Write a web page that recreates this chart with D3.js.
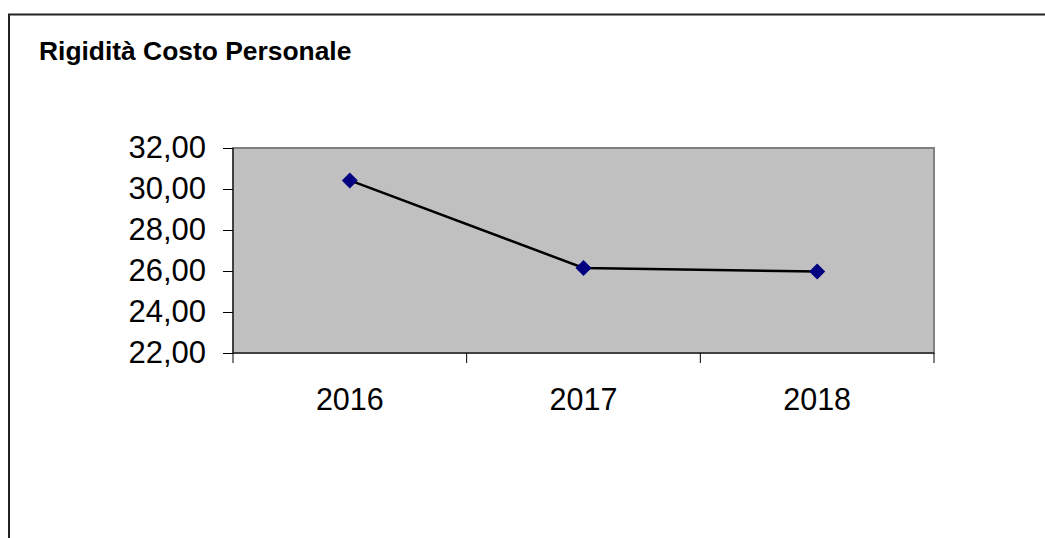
<!DOCTYPE html>
<html>
<head>
<meta charset="utf-8">
<script src="https://cdn.jsdelivr.net/npm/d3@7"></script>
<style>
  html, body { margin: 0; padding: 0; background: #fff; }
  svg { display: block; font-family: Arial, 'Liberation Sans', sans-serif; }
</style>
</head>
<body>
<svg id="chart" width="1045" height="538"></svg>
<script>
const title = 'Rigidità Costo Personale';
const years = ['2016', '2017', '2018'];
const values = [30.42, 26.15, 25.97];
const yTicks = [22, 24, 26, 28, 30, 32];

const width = 1045;
const height = 538;
const plot = { left: 233, top: 148, right: 934, bottom: 353 };

const svg = d3.select('#chart');

// italian style numbers: 32,00
const it = d3.formatLocale({ decimal: ',', thousands: '.', grouping: [3], currency: ['€', ''] });
const fmt = it.format('.2f');

const x = d3.scaleBand().domain(years).range([plot.left, plot.right]).padding(0);
const y = d3.scaleLinear().domain([22, 32]).range([plot.bottom, plot.top]);

// outer frame (only top and left visible)
svg.append('path')
    .attr('d', `M9,${height} L9,14.5 L${width},14.5`)
    .attr('fill', 'none')
    .attr('stroke', '#222')
    .attr('stroke-width', 2);

svg.append('text')
    .attr('x', 39)
    .attr('y', 60)
    .attr('font-size', 26.4)
    .attr('font-weight', 'bold')
    .attr('fill', '#000')
    .text(title);

// plot area
svg.append('rect')
    .attr('x', plot.left)
    .attr('y', plot.top)
    .attr('width', plot.right - plot.left)
    .attr('height', plot.bottom - plot.top)
    .attr('fill', '#c0c0c0')
    .attr('stroke', '#808080')
    .attr('stroke-width', 2);

// y axis
const yAxis = svg.append('g')
    .attr('transform', `translate(${plot.left},0)`)
    .call(d3.axisLeft(y).tickValues(yTicks).tickFormat(fmt).tickSize(10).tickPadding(17));
yAxis.selectAll('text').attr('font-size', 31).attr('fill', '#000').attr('font-family', 'Arial, Liberation Sans, sans-serif');
yAxis.selectAll('line').attr('stroke', '#000');
yAxis.select('.domain').attr('stroke', '#000').attr('d', `M0,${plot.top}V${plot.bottom}`);

// x axis, ticks sit on the band boundaries
const xAxis = svg.append('g')
    .attr('transform', `translate(0,${plot.bottom})`);
xAxis.append('line')
    .attr('x1', plot.left).attr('x2', plot.right)
    .attr('stroke', '#000').attr('stroke-width', 1);
const edges = years.map(d => x(d)).concat([x(years[years.length - 1]) + x.bandwidth()]);
xAxis.selectAll('line.tick')
    .data(edges)
    .enter().append('line')
    .attr('class', 'tick')
    .attr('x1', d => d).attr('x2', d => d)
    .attr('y1', 0).attr('y2', 10)
    .attr('stroke', '#000');
xAxis.selectAll('text')
    .data(years)
    .enter().append('text')
    .attr('x', d => x(d) + x.bandwidth() / 2)
    .attr('y', 57)
    .attr('text-anchor', 'middle')
    .attr('font-size', 30.5)
    .attr('fill', '#000')
    .text(d => d);

// series line + diamond markers
const line = d3.line()
    .x((d, i) => x(years[i]) + x.bandwidth() / 2)
    .y(d => y(d));

svg.append('path')
    .datum(values)
    .attr('d', line)
    .attr('fill', 'none')
    .attr('stroke', '#000')
    .attr('stroke-width', 2.5);

svg.selectAll('path.marker')
    .data(values)
    .enter().append('path')
    .attr('class', 'marker')
    .attr('transform', (d, i) => `translate(${x(years[i]) + x.bandwidth() / 2},${y(d)})`)
    .attr('d', 'M0,-8L8,0L0,8L-8,0Z')
    .attr('fill', '#000080');
</script>
</body>
</html>
